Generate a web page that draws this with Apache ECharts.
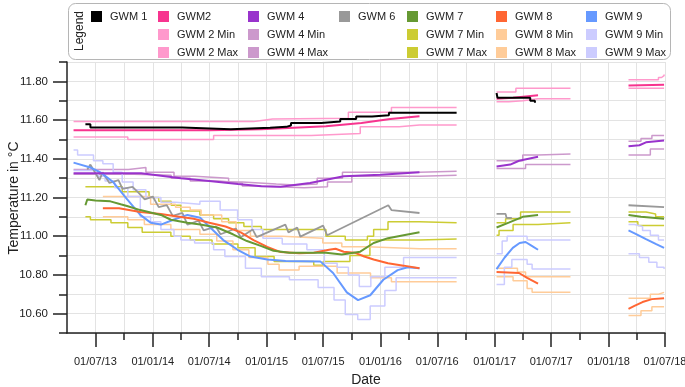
<!DOCTYPE html>
<html>
<head>
<meta charset="utf-8">
<script src="https://cdn.jsdelivr.net/npm/echarts@6/dist/echarts.min.js"></script>
<style>
  html, body { margin: 0; background: #fff; }
  #chart { width: 685px; height: 387px; }
</style>
</head>
<body>
<div id="chart"></div>
<script>
// gaps between the three logging periods
var GAP1 = ['2016-09-01', null];
var GAP2 = ['2017-09-01', null];

// tick labels
var majorTicks = ['2013-07-01','2014-01-01','2014-07-01','2015-01-01','2015-07-01','2016-01-01',
                  '2016-07-01','2017-01-01','2017-07-01','2018-01-01','2018-07-01'];
var minorTicks = ['2013-10-01','2014-04-01','2014-10-01','2015-04-01','2015-10-01',
                  '2016-04-01','2016-10-01','2017-04-01','2017-10-01','2018-04-01'];
var yMajor = [10.6, 10.8, 11.0, 11.2, 11.4, 11.6, 11.8];
var yMinor = [10.5, 10.7, 10.9, 11.1, 11.3, 11.5, 11.7, 11.9];

// series values [date, °C]
var gwm1 = [['2013-05-30',11.578],['2013-06-15',11.562],['2014-04-05',11.552],['2014-09-08',11.56],
  ['2015-01-12',11.565],['2015-03-05',11.572],['2015-03-20',11.585],['2015-06-25',11.592],
  ['2015-08-25',11.605],['2015-10-15',11.618],['2015-12-05',11.625],['2016-01-28',11.638],['2016-05-05',11.638],
  GAP1,
  ['2017-01-07',11.74],['2017-01-10',11.715],['2017-04-05',11.715],['2017-04-25',11.70],['2017-05-10',11.69]];

var gwm2 = [['2013-04-22',11.547],['2014-07-01',11.548],['2014-12-15',11.553],['2015-07-10',11.568],
  ['2015-11-01',11.585],['2016-02-01',11.605],['2016-05-05',11.62],
  GAP1, ['2017-01-07',11.71],['2017-03-01',11.715],['2017-05-20',11.728],
  GAP2, ['2018-03-06',11.778],['2018-06-28',11.783]];
var gwm2Min = [['2013-04-22',11.512],['2013-10-13',11.50],['2014-07-15',11.52],['2015-05-24',11.53],
  ['2015-10-28',11.565],['2016-03-01',11.575],['2016-05-05',11.575],
  GAP1, ['2017-01-07',11.695],['2017-02-15',11.70],['2017-04-01',11.71],['2017-05-20',11.71],
  GAP2, ['2018-03-06',11.765],['2018-06-28',11.765]];
var gwm2Max = [['2013-04-22',11.592],['2014-11-20',11.596],['2014-12-10',11.605],['2015-01-20',11.61],
  ['2015-09-20',11.64],['2016-02-05',11.665],['2016-05-05',11.665],
  GAP1, ['2017-01-07',11.745],['2017-03-10',11.765],['2017-05-20',11.765],
  GAP2, ['2018-03-06',11.808],['2018-06-10',11.82],['2018-06-20',11.83],['2018-06-28',11.835]];

var gwm4 = [['2013-04-22',11.325],['2013-11-25',11.325],['2014-04-01',11.30],['2014-07-01',11.285],
  ['2014-10-01',11.27],['2014-12-15',11.258],['2015-02-15',11.255],['2015-05-20',11.275],
  ['2015-09-05',11.31],['2016-01-01',11.318],['2016-05-05',11.33],
  GAP1, ['2017-01-07',11.36],['2017-02-20',11.37],['2017-03-20',11.39],['2017-05-20',11.41],
  GAP2, ['2018-03-06',11.465],['2018-04-10',11.47],['2018-05-01',11.485],['2018-06-28',11.495]];
var gwm4Min = [['2013-04-22',11.32],['2013-11-01',11.315],['2014-03-01',11.30],['2014-05-01',11.285],
  ['2014-08-01',11.275],['2014-10-15',11.26],['2014-12-01',11.25],['2015-05-01',11.255],
  ['2015-07-15',11.28],['2015-10-01',11.31],['2016-05-05',11.315],
  GAP1, ['2017-01-07',11.35],['2017-04-10',11.37],['2017-05-20',11.37],
  GAP2, ['2018-03-06',11.42],['2018-05-15',11.45],['2018-06-28',11.45]];
var gwm4Max = [['2013-04-22',11.345],['2013-10-15',11.355],['2013-12-10',11.33],['2014-03-10',11.31],
  ['2014-05-15',11.30],['2014-09-01',11.28],['2014-10-15',11.27],['2015-02-01',11.265],
  ['2015-04-01',11.27],['2015-06-12',11.30],['2015-09-01',11.33],['2016-05-05',11.335],
  GAP1, ['2017-01-07',11.39],['2017-04-01',11.42],['2017-05-20',11.425],
  GAP2, ['2018-03-06',11.49],['2018-04-15',11.505],['2018-05-20',11.52],['2018-06-28',11.52]];

var gwm6 = [['2013-06-05',11.345],['2013-06-15',11.37],['2013-07-14',11.29],['2013-07-24',11.33],
  ['2013-08-15',11.275],['2013-09-13',11.29],['2013-09-26',11.245],['2013-10-28',11.255],
  ['2013-11-16',11.225],['2013-12-06',11.19],['2014-01-01',11.205],['2014-01-20',11.15],
  ['2014-02-15',11.16],['2014-03-06',11.105],['2014-04-06',11.12],['2014-04-22',11.06],
  ['2014-05-28',11.08],['2014-06-13',11.03],['2014-07-22',11.05],['2014-08-06',11.01],
  ['2014-09-24',11.04],['2014-10-10',10.995],['2014-11-17',11.035],['2014-11-30',10.995],
  ['2015-03-02',11.06],['2015-03-12',11.02],['2015-04-09',11.045],['2015-04-19',10.998],
  ['2015-07-01',11.055],['2015-07-14',11.005],['2016-01-26',11.16],['2016-02-05',11.135],['2016-05-05',11.12],
  GAP1, ['2017-01-07',11.115],['2017-02-05',11.115],['2017-02-08',11.095],['2017-02-25',11.095],
  GAP2, ['2018-03-06',11.16],['2018-06-28',11.15]];

var gwm7 = [['2013-05-30',11.16],['2013-06-05',11.19],['2013-07-01',11.185],['2013-08-18',11.18],
  ['2013-09-20',11.165],['2013-10-13',11.155],['2013-11-22',11.135],['2014-01-27',11.11],
  ['2014-02-28',11.085],['2014-04-22',11.07],['2014-06-02',11.06],['2014-07-26',11.045],
  ['2014-09-15',11.01],['2014-10-30',10.975],['2014-12-13',10.95],['2015-01-23',10.925],
  ['2015-03-15',10.915],['2015-07-10',10.915],['2015-08-30',10.905],['2015-10-28',10.92],
  ['2015-12-10',10.965],['2016-01-25',10.99],['2016-03-15',11.005],['2016-05-05',11.02],
  GAP1, ['2017-01-07',11.045],['2017-02-15',11.07],['2017-04-01',11.10],['2017-05-20',11.11],
  GAP2, ['2018-03-06',11.11],['2018-04-15',11.10],['2018-06-28',11.09]];
var gwm7Min = [['2013-05-30',11.10],['2013-06-15',11.085],['2013-08-20',11.07],['2013-10-13',11.045],
  ['2013-11-28',11.02],['2014-02-28',11.0],['2014-05-01',10.98],['2014-07-10',10.96],
  ['2014-10-01',10.94],['2014-11-25',10.895],['2015-01-25',10.87],['2015-06-01',10.85],
  ['2015-07-01',10.87],['2015-09-25',10.90],['2015-11-28',10.98],['2016-05-05',10.985],
  GAP1, ['2017-01-07',11.005],['2017-01-15',11.03],['2017-03-01',11.06],['2017-05-20',11.07],
  GAP2, ['2018-03-06',11.075],['2018-04-05',11.055],['2018-06-28',11.055]];
var gwm7Max = [['2013-05-30',11.255],['2013-09-25',11.23],['2013-12-20',11.20],['2014-01-20',11.18],
  ['2014-03-01',11.16],['2014-04-01',11.13],['2014-06-01',11.11],['2014-07-15',11.09],
  ['2014-09-01',11.07],['2014-10-20',11.05],['2014-12-15',11.035],['2015-07-10',11.0],
  ['2015-09-10',10.98],['2015-11-20',11.0],['2015-12-10',11.035],['2016-01-25',11.075],['2016-05-05',11.07],
  GAP1, ['2017-01-07',11.07],['2017-02-05',11.09],['2017-03-25',11.125],['2017-05-20',11.125],
  GAP2, ['2018-03-06',11.125],['2018-05-01',11.115],['2018-06-01',11.10],['2018-06-28',11.10]];

var gwm8 = [['2013-07-25',11.145],['2013-09-15',11.145],['2013-11-22',11.125],['2014-01-27',11.115],
  ['2014-03-10',11.105],['2014-05-12',11.09],['2014-07-01',11.07],['2014-08-22',11.05],
  ['2014-10-10',11.02],['2014-11-20',10.98],['2015-01-03',10.945],['2015-02-15',10.918],
  ['2015-04-15',10.912],['2015-06-01',10.915],['2015-07-20',10.93],['2015-08-10',10.935],
  ['2015-09-05',10.92],['2015-10-10',10.915],['2015-11-10',10.895],['2015-12-10',10.88],
  ['2016-01-25',10.86],['2016-03-15',10.848],['2016-05-05',10.835],
  GAP1, ['2017-01-07',10.815],['2017-03-20',10.81],['2017-04-15',10.785],['2017-05-20',10.755],
  GAP2, ['2018-03-06',10.625],['2018-03-25',10.64],['2018-04-20',10.66],['2018-05-20',10.675],['2018-06-28',10.68]];
var gwm8Min = [['2013-07-25',11.10],['2013-10-13',11.085],['2013-12-05',11.06],['2014-02-28',11.035],
  ['2014-06-01',11.01],['2014-07-25',10.975],['2014-09-15',10.93],['2014-11-05',10.89],
  ['2015-01-05',10.855],['2015-02-10',10.825],['2015-04-15',10.845],['2015-08-15',10.81],
  ['2015-11-30',10.785],['2016-02-05',10.765],['2016-05-05',10.765],
  GAP1, ['2017-01-07',10.79],['2017-03-01',10.77],['2017-04-15',10.73],['2017-05-01',10.71],['2017-05-20',10.71],
  GAP2, ['2018-03-06',10.59],['2018-04-15',10.615],['2018-05-20',10.635],['2018-06-28',10.635]];
var gwm8Max = [['2013-07-25',11.205],['2013-12-25',11.165],['2014-03-15',11.15],['2014-05-01',11.135],
  ['2014-06-05',11.11],['2014-08-10',11.075],['2014-09-25',11.03],['2014-11-10',11.0],
  ['2015-02-20',10.99],['2015-06-30',10.965],['2015-08-30',10.945],['2015-11-20',10.935],['2016-05-05',10.935],
  GAP1, ['2017-01-07',10.835],['2017-03-15',10.815],['2017-04-10',10.79],['2017-05-20',10.79],
  GAP2, ['2018-03-06',10.68],['2018-05-15',10.70],['2018-06-10',10.71],['2018-06-28',10.71]];

var gwm9 = [['2013-04-22',11.38],['2013-06-15',11.355],['2013-07-17',11.33],['2013-08-27',11.28],
  ['2013-10-11',11.19],['2013-11-22',11.11],['2013-12-25',11.07],['2014-01-27',11.06],
  ['2014-03-08',11.085],['2014-04-22',11.11],['2014-06-02',11.095],['2014-07-04',11.045],
  ['2014-08-15',10.98],['2014-09-30',10.93],['2014-11-10',10.895],['2015-01-03',10.88],
  ['2015-03-03',10.872],['2015-06-22',10.87],['2015-08-02',10.81],['2015-09-15',10.71],
  ['2015-10-21',10.67],['2015-11-29',10.695],['2016-01-10',10.775],['2016-02-25',10.825],
  ['2016-03-28',10.84],['2016-05-05',10.835],
  GAP1, ['2017-01-07',10.83],['2017-02-02',10.89],['2017-02-28',10.94],['2017-03-22',10.965],
  ['2017-04-10',10.97],['2017-04-30',10.95],['2017-05-20',10.93],
  GAP2, ['2018-03-06',11.03],['2018-04-01',11.01],['2018-05-01',10.985],['2018-06-01',10.96],['2018-06-28',10.94]];
var gwm9Min = [['2013-04-22',11.34],['2013-07-10',11.31],['2013-08-01',11.285],['2013-09-01',11.25],
  ['2013-10-13',11.205],['2013-11-22',11.10],['2013-12-25',11.075],['2014-01-27',11.035],
  ['2014-03-10',11.0],['2014-04-01',10.98],['2014-05-15',10.965],['2014-07-15',10.93],
  ['2014-08-20',10.895],['2014-10-25',10.835],['2014-12-15',10.79],['2015-03-15',10.775],
  ['2015-06-15',10.735],['2015-08-05',10.67],['2015-09-10',10.595],['2015-10-20',10.57],
  ['2015-11-29',10.64],['2016-01-15',10.72],['2016-02-20',10.785],['2016-05-05',10.785],
  GAP1, ['2017-01-07',10.75],['2017-02-01',10.84],['2017-02-25',10.88],['2017-04-15',10.855],
  ['2017-05-01',10.83],['2017-05-20',10.83],
  GAP2, ['2018-03-06',10.91],['2018-04-10',10.89],['2018-05-10',10.865],['2018-06-05',10.84],['2018-06-28',10.83]];
var gwm9Max = [['2013-04-22',11.445],['2013-05-05',11.42],['2013-06-25',11.39],['2013-07-25',11.375],
  ['2013-08-27',11.33],['2013-09-25',11.28],['2013-10-30',11.24],['2013-12-10',11.20],
  ['2014-01-27',11.175],['2014-03-15',11.165],['2014-06-01',11.18],['2014-08-05',11.135],
  ['2014-09-30',11.085],['2014-11-15',11.035],['2014-12-20',10.99],['2015-02-20',10.96],
  ['2015-05-10',10.93],['2015-07-05',10.86],['2015-08-15',10.84],['2015-09-20',10.80],
  ['2015-10-25',10.74],['2015-12-01',10.79],['2016-01-15',10.84],['2016-03-15',10.89],['2016-05-05',10.89],
  GAP1, ['2017-01-07',10.91],['2017-01-25',10.975],['2017-02-10',11.0],['2017-04-15',10.98],['2017-05-20',10.98],
  GAP2, ['2018-03-06',11.06],['2018-03-25',11.05],['2018-04-20',11.03],['2018-05-15',11.005],['2018-06-10',10.98],['2018-06-28',10.98]];

function ts(s) {
  var p = s.split('-').map(Number);
  return new Date(p[0], p[1] - 1, p[2]).getTime();
}
function pad(n) { return (n < 10 ? '0' : '') + n; }

var FONT = 'Liberation Sans, Arial, sans-serif';

// name, data, colour, width, step, z
var lines = [
  ['GWM 2 Min', gwm2Min, '#ff99cc', 1.5, true, 1],
  ['GWM 2 Max', gwm2Max, '#ff99cc', 1.5, true, 1],
  ['GWM 4 Min', gwm4Min, '#cc99cc', 1.5, true, 1],
  ['GWM 4 Max', gwm4Max, '#cc99cc', 1.5, true, 1],
  ['GWM 7 Min', gwm7Min, '#cccc33', 1.5, true, 1],
  ['GWM 7 Max', gwm7Max, '#cccc33', 1.5, true, 1],
  ['GWM 8 Min', gwm8Min, '#ffcc99', 1.5, true, 1],
  ['GWM 8 Max', gwm8Max, '#ffcc99', 1.5, true, 1],
  ['GWM 9 Min', gwm9Min, '#ccccff', 1.5, true, 1],
  ['GWM 9 Max', gwm9Max, '#ccccff', 1.5, true, 1],
  ['GWM 6', gwm6, '#999999', 1.8, false, 2],
  ['GWM 9', gwm9, '#6699ff', 2, false, 3],
  ['GWM 8', gwm8, '#ff6633', 2, false, 3],
  ['GWM 7', gwm7, '#669933', 2, false, 3],
  ['GWM 4', gwm4, '#9933cc', 2, false, 3],
  ['GWM2', gwm2, '#f7348f', 2, false, 3],
  ['GWM 1', gwm1, '#000000', 2, true, 4]
];

var series = lines.map(function (l) {
  return {
    name: l[0], type: 'line', step: l[4] ? 'end' : false,
    data: l[1].map(function (p) { return [ts(p[0]), p[1]]; }),
    symbol: 'none', showSymbol: false, connectNulls: false, z: l[5],
    color: l[2], itemStyle: { color: l[2] },
    lineStyle: { color: l[2], width: l[3] }
  };
});

var legendCols = [
  [91, ['GWM 1']],
  [158, ['GWM2', 'GWM 2 Min', 'GWM 2 Max']],
  [248, ['GWM 4', 'GWM 4 Min', 'GWM 4 Max']],
  [339, ['GWM 6']],
  [407, ['GWM 7', 'GWM 7 Min', 'GWM 7 Max']],
  [496, ['GWM 8', 'GWM 8 Min', 'GWM 8 Max']],
  [586, ['GWM 9', 'GWM 9 Min', 'GWM 9 Max']]
];
var legends = legendCols.map(function (c) {
  return {
    left: c[0], top: 11, orient: 'vertical', padding: 0, itemGap: 7,
    itemWidth: 11, itemHeight: 11, icon: 'rect', data: c[1],
    textStyle: { fontFamily: FONT, fontSize: 11, color: '#222', padding: [0, 0, 0, 3] }
  };
});

var axisLine = { show: true, onZero: false, lineStyle: { color: '#222', width: 1.5 } };
var gridLine = { show: true, lineStyle: { color: '#e3e3e3', width: 1 } };
var xMin = ts('2013-04-01'), xMax = ts('2018-07-01');

function fmtDate(v) {
  var d = new Date(v);
  return pad(d.getDate()) + '/' + pad(d.getMonth() + 1) + '/' + String(d.getFullYear()).slice(2);
}

var chart = echarts.init(document.getElementById('chart'), null, { renderer: 'canvas' });
chart.setOption({
  animation: false,
  backgroundColor: '#fff',
  grid: { left: 67, right: 20, top: 62, bottom: 54, containLabel: false, outerBoundsMode: 'none' },
  legend: legends,
  graphic: [
    { type: 'rect', left: 68, top: 3, z: -1,
      shape: { width: 602, height: 56, r: 7 },
      style: { fill: '#fff', stroke: '#b5b5b5', lineWidth: 1 } },
    { type: 'text', x: 80, y: 31, rotation: Math.PI / 2,
      style: { text: 'Legend', fontFamily: FONT, fontSize: 12, fill: '#222',
               align: 'center', verticalAlign: 'middle' } },
    // y axis title
    { type: 'text', x: 14, y: 198, rotation: Math.PI / 2,
      style: { text: 'Temperature in °C', fontFamily: FONT, fontSize: 14, fill: '#222',
               align: 'center', verticalAlign: 'middle' } }
  ],
  xAxis: [
    { type: 'value', min: xMin, max: xMax, position: 'bottom',
      name: 'Date', nameLocation: 'middle', nameGap: 40,
      nameTextStyle: { fontFamily: FONT, fontSize: 14, color: '#222' },
      axisLine: axisLine,
      axisTick: { show: true, length: 14, customValues: majorTicks.map(ts),
                  lineStyle: { color: '#222', width: 1.5 } },
      axisLabel: { customValues: majorTicks.map(ts), margin: 23, fontFamily: FONT, fontSize: 11, color: '#222',
                   formatter: fmtDate },
      splitLine: gridLine },
    { type: 'value', min: xMin, max: xMax, position: 'bottom', gridIndex: 0,
      axisLine: { show: false },
      axisTick: { show: true, length: 7, customValues: minorTicks.map(ts),
                  lineStyle: { color: '#222', width: 1.5 } },
      axisLabel: { show: false },
      splitLine: gridLine }
  ],
  yAxis: [
    { type: 'value', min: 10.5, max: 11.9, position: 'left',
      axisLine: axisLine,
      axisTick: { show: true, length: 14, customValues: yMajor, lineStyle: { color: '#222', width: 1.5 } },
      axisLabel: { customValues: yMajor, margin: 19, fontFamily: FONT, fontSize: 11.5, color: '#222',
                   formatter: function (v) { return v.toFixed(2); } },
      splitLine: gridLine },
    { type: 'value', min: 10.5, max: 11.9, position: 'left', gridIndex: 0,
      axisLine: { show: false },
      axisTick: { show: true, length: 8, customValues: yMinor, lineStyle: { color: '#222', width: 1.5 } },
      axisLabel: { show: false },
      splitLine: gridLine }
  ],
  series: series
});
</script>
</body>
</html>
